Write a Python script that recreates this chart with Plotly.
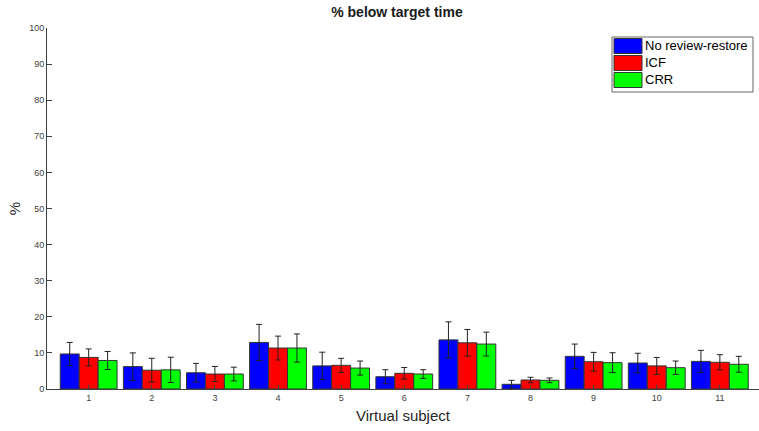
import plotly.graph_objects as go

subjects = [1, 2, 3, 4, 5, 6, 7, 8, 9, 10, 11]
series_names = ["No review-restore", "ICF", "CRR"]
no_review = [9.7, 6.2, 4.5, 12.9, 6.4, 3.4, 13.6, 1.3, 9.05, 7.2, 7.65]
no_review_err = [3.2, 3.8, 2.6, 5.0, 3.8, 1.95, 5.0, 1.1, 3.4, 2.7, 3.05]
icf = [8.75, 5.2, 4.15, 11.35, 6.55, 4.35, 12.8, 2.5, 7.55, 6.4, 7.4]
icf_err = [2.35, 3.3, 2.1, 3.3, 1.95, 1.6, 3.7, 0.75, 2.6, 2.35, 2.1]
crr = [7.9, 5.3, 4.15, 11.35, 5.8, 4.15, 12.45, 2.4, 7.3, 5.9, 6.85]
crr_err = [2.5, 3.5, 1.9, 3.9, 1.95, 1.2, 3.3, 0.65, 2.75, 1.85, 2.2]
colors = ["#0000ff", "#ff0000", "#00ff00"]
y_ticks = [0, 10, 20, 30, 40, 50, 60, 70, 80, 90, 100]

W, H = 759, 431
ML, MR, MT, MB = 47, 0, 28, 42
PW, PH = W - ML - MR, H - MT - MB


def px_x(px):
    return (px - ML) / PW


def px_y(py):
    return (H - MB - py) / PH


fig = go.Figure()
for name, vals, errs, col in zip(series_names, [no_review, icf, crr],
                                  [no_review_err, icf_err, crr_err], colors):
    fig.add_trace(go.Bar(
        x=subjects, y=vals, name=name,
        marker=dict(color=col, line=dict(color="#333333", width=1)),
        error_y=dict(type="data", array=errs, visible=True,
                     color="#222222", thickness=1, width=3),
    ))

font_family = "Liberation Sans, Arial, sans-serif"

# custom legend (MATLAB style: wide swatches)
shapes = [dict(type="rect", xref="paper", yref="paper",
               x0=px_x(612), x1=px_x(753), y0=px_y(92), y1=px_y(37),
               line=dict(color="#666666", width=1), fillcolor="white", layer="above")]
annotations = []
row_tops = [38.5, 55.5, 72.5]
for name, col, top in zip(series_names, colors, row_tops):
    shapes.append(dict(type="rect", xref="paper", yref="paper",
                       x0=px_x(614), x1=px_x(642), y0=px_y(top + 15), y1=px_y(top),
                       line=dict(color="#333333", width=1), fillcolor=col, layer="above"))
    annotations.append(dict(text=name, xref="paper", yref="paper",
                            x=px_x(643), y=px_y(top + 7.5), xanchor="left", yanchor="middle",
                            showarrow=False,
                            font=dict(family=font_family, size=13, color="#000000")))

fig.update_layout(
    width=W, height=H,
    margin=dict(l=ML, r=MR, t=MT, b=MB),
    paper_bgcolor="white", plot_bgcolor="white",
    barmode="group", bargap=0.1, bargroupgap=0,
    font=dict(family=font_family, color="#404040", size=9),
    title=dict(text="<b>% below target time</b>", x=0.523, xanchor="center",
               y=0.972, yanchor="middle",
               font=dict(family=font_family, size=14, color="#1a1a1a")),
    showlegend=False,
    shapes=shapes,
    annotations=annotations,
    xaxis=dict(range=[0.34, 11.62], tickmode="array", tickvals=subjects,
               ticktext=[str(s) for s in subjects],
               showline=True, linecolor="#404040", linewidth=1,
               ticks="inside", ticklen=4, tickcolor="#404040",
               showgrid=False, zeroline=False,
               title=dict(text="Virtual subject", standoff=8,
                          font=dict(family=font_family, size=15, color="#262626"))),
    yaxis=dict(range=[0, 100], tickmode="array", tickvals=y_ticks,
               showline=True, linecolor="#404040", linewidth=1,
               ticks="inside", ticklen=5, tickcolor="#404040",
               showgrid=False, zeroline=False,
               title=dict(text="%", standoff=4,
                          font=dict(family=font_family, size=15, color="#262626"))),
)

fig.write_html("out.html")
